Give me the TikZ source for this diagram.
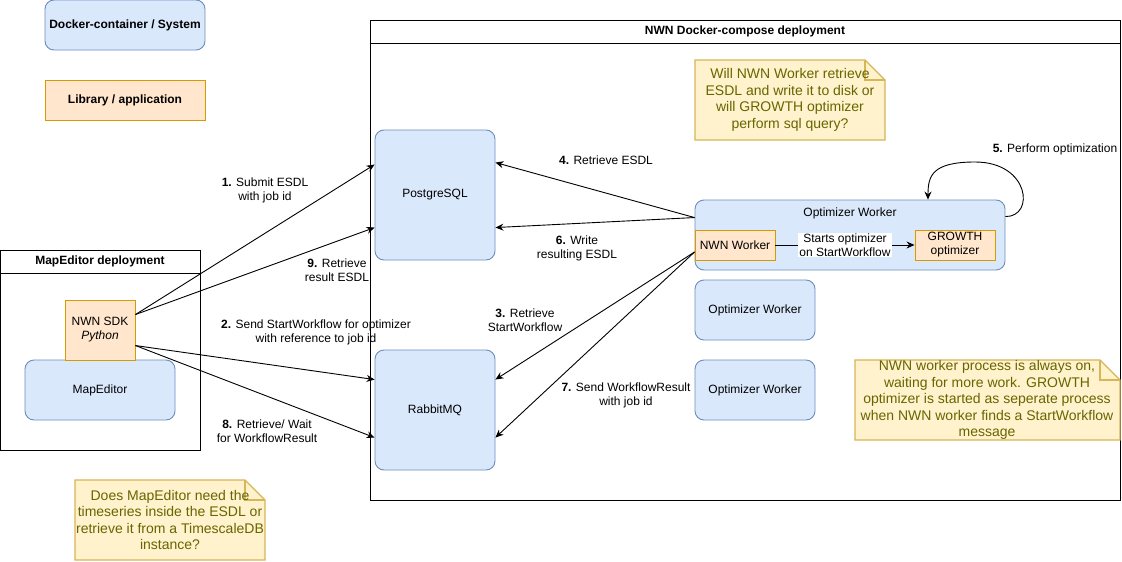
\documentclass[tikz,border=0pt]{standalone}
\usepackage{fontspec}
\setmainfont{Liberation Sans}
\usetikzlibrary{arrows.meta}
\definecolor{dockfill}{HTML}{DAE8FC}
\definecolor{dockline}{HTML}{6C8EBF}
\definecolor{libfill}{HTML}{FFE6CC}
\definecolor{libline}{HTML}{D79B00}
\definecolor{notefill}{HTML}{FFF2CC}
\definecolor{noteline}{HTML}{D6B656}
\definecolor{notefont}{HTML}{666600}
\begin{document}
\begin{tikzpicture}[x=1pt,y=-1pt,line width=0.9pt,
    container/.style={draw=dockline,fill=dockfill,rounded corners=9,inner sep=0,align=center,font=\fontsize{12}{14}\selectfont},
    library/.style={draw=libline,fill=libfill,inner sep=0,align=center,font=\fontsize{12}{14}\selectfont},
    title/.style={font=\fontsize{12}{14}\selectfont\bfseries},
    notebox/.style={draw=noteline,fill=notefill,line width=1.2pt},
    notetext/.style={text=notefont,align=center,inner sep=0,font=\fontsize{14}{16.5}\selectfont},
    lbl/.style={align=center,inner sep=0,font=\fontsize{12}{14}\selectfont},
    msg/.style={-{Stealth[length=8,width=7]}}]
\useasboundingbox (0,0) rectangle (1122,562);
% legend
\node[container,font=\fontsize{12}{14}\selectfont\bfseries,minimum width=160,minimum height=50] (legdock) at (125,25) {Docker-container / System};
\node[library,font=\fontsize{12}{14}\selectfont\bfseries,minimum width=160,minimum height=40] (leglib) at (125,100) {Library / application};
% NWN docker-compose frame
\draw[fill=white] (370,20) rectangle (1120,500);
\draw (370,43) -- (1120,43);
\node[title] (nwndep) at (745,31.5) {NWN Docker-compose deployment};
% MapEditor frame
\draw[fill=white] (0.5,250) rectangle (200,450);
\draw (0.5,273) -- (200,273);
\node[title] (mapdep) at (100,261.5) {MapEditor deployment};
% boxes
\node[container,minimum width=150,minimum height=60] (mapeditor) at (100,390) {MapEditor};
\node[library,minimum width=70,minimum height=60] (sdk) at (100,330) {NWN SDK\\\textit{Python}};
\node[container,minimum width=120,minimum height=130] (pg) at (435,195) {PostgreSQL};
\node[container,minimum width=120,minimum height=120] (rmq) at (435,410) {RabbitMQ};
\node[container,minimum width=310,minimum height=70] (ow) at (850,235) {};
\node[lbl] (owtitle) at (850,213) {Optimizer Worker};
\node[library,minimum width=80,minimum height=30] (nww) at (735,245) {NWN Worker};
\node[library,minimum width=80,minimum height=30] (growth) at (955,245) {GROWTH\\optimizer};
\node[container,minimum width=120,minimum height=60] (ow2) at (755,310) {Optimizer Worker};
\node[container,minimum width=120,minimum height=60] (ow3) at (755,390) {Optimizer Worker};
% notes
\draw[notebox] (695,60) -- (865,60) -- (885,80) -- (885,140) -- (695,140) -- cycle;
\draw[notebox,fill=none] (865,60) -- (865,80) -- (885,80);
\node[notetext] (note1) at (790,100) {Will NWN Worker retrieve\\ESDL and write it to disk or\\will GROWTH optimizer\\perform sql query?};
\draw[notebox] (855,360) -- (1100,360) -- (1120,380) -- (1120,440) -- (855,440) -- cycle;
\draw[notebox,fill=none] (1100,360) -- (1100,380) -- (1120,380);
\node[notetext] (note2) at (987,400) {NWN worker process is always on,\\waiting for more work. GROWTH\\optimizer is started as seperate process\\when NWN worker finds a StartWorkflow\\message};
\draw[notebox] (75,480) -- (245,480) -- (265,500) -- (265,560) -- (75,560) -- cycle;
\draw[notebox,fill=none] (245,480) -- (245,500) -- (265,500);
\node[notetext] (note3) at (170,520) {Does MapEditor need the\\timeseries inside the ESDL or\\retrieve it from a TimescaleDB\\instance?};
% messages
\draw[msg] ([yshift=-15]sdk.north east) -- ([yshift=-35]pg.north west); % 1
\draw[msg] ([yshift=-46]sdk.north east) -- ([yshift=-30]rmq.north west); % 2
\draw[msg] ([yshift=-7]nww.west) -- ([yshift=-30]rmq.north east); % 3
\draw[msg] ([yshift=-18]ow.north west) -- ([yshift=-33]pg.north east); % 4
\draw[msg] ([yshift=-17]ow.north east) .. controls (1035,217) and (1030,162) .. (975,162) .. controls (932,162) and (928,176) .. ([xshift=78]ow.north); % 5
\draw[msg] ([yshift=-18]ow.north west) -- ([yshift=-98]pg.north east); % 6
\draw[msg] ([yshift=-7]nww.west) -- ([yshift=-88]rmq.north east); % 7
\draw[msg] ([yshift=-46]sdk.north east) -- ([yshift=-88]rmq.north west); % 8
\draw[msg] ([yshift=-15]sdk.north east) -- ([yshift=-98]pg.north west); % 9
\draw[msg] (nww) -- node[lbl,fill=white,inner sep=1] (starts) {Starts optimizer\\on StartWorkflow} (growth);
% labels
\node[lbl] (l1) at (265,190) {\textbf{1.} Submit ESDL\\with job id};
\node[lbl] (l2) at (316,332) {\textbf{2.} Send StartWorkflow for optimizer\\with reference to job id};
\node[lbl] (l3) at (525,320) {\textbf{3.} Retrieve\\StartWorkflow};
\node[lbl] (l4) at (606,160) {\textbf{4.} Retrieve ESDL};
\node[lbl] (l5) at (1055,149) {\textbf{5.} Perform optimization};
\node[lbl] (l6) at (577,248) {\textbf{6.} Write\\resulting ESDL};
\node[lbl] (l7) at (626,395) {\textbf{7.} Send WorkflowResult\\with job id};
\node[lbl] (l8) at (267,431) {\textbf{8.} Retrieve/ Wait\\for WorkflowResult};
\node[lbl] (l9) at (337,270) {\textbf{9.} Retrieve\\result ESDL};
\end{tikzpicture}
\end{document}
